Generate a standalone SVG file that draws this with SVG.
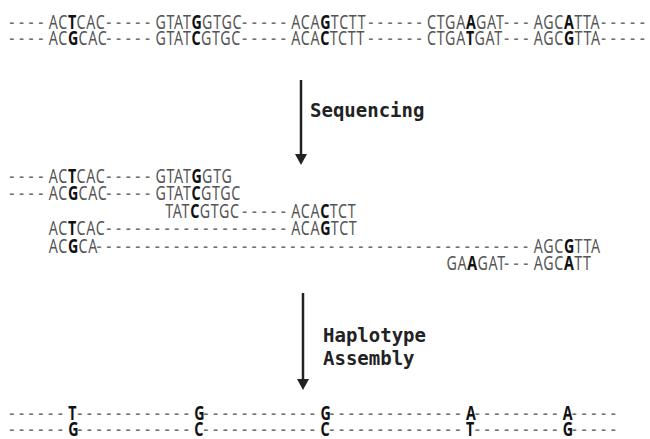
<svg xmlns="http://www.w3.org/2000/svg" width="650" height="439" viewBox="0 0 650 439">
  <style>
    .seq { font-family: "Noto Sans", "Open Sans", sans-serif; font-size: 19px; }
    .n { fill: #555; letter-spacing: 0.9px; }
    .b { fill: #111; font-weight: bold; letter-spacing: 0.4px; }
    .d { fill: #6f6f6f; font-family: "DejaVu Sans", sans-serif; letter-spacing: 6.07px; }
    .lbl { font-family: "DejaVu Sans Mono", monospace; font-weight: bold; font-size: 19px; fill: #222; }
    .arrow { stroke: #222; stroke-width: 2.5; fill: none; }
  </style>
  <defs>
    <marker id="ah" viewBox="0 0 11 12" refX="0" refY="6" markerWidth="11" markerHeight="12" markerUnits="userSpaceOnUse" orient="auto">
      <path d="M0,0 L11,6 L0,12 Z" fill="#222"/>
    </marker>
  </defs>
  <rect width="650" height="439" fill="#fff"/>

  <!-- sequence rows on a column grid: x = 13.33 + 12.933*col in the 0.75 scaled space -->
  <g class="seq" transform="scale(0.75,1)">
    <g id="haplotypes">
      <text y="29"><tspan class="d" x="12.3">----</tspan><tspan class="n" x="65.1">AC<tspan class="b">T</tspan>CAC</tspan><tspan class="d" x="141.7">-----</tspan><tspan class="n" x="207.3">GTAT<tspan class="b">G</tspan>GTGC</tspan><tspan class="d" x="322.7">-----</tspan><tspan class="n" x="388.4">ACA<tspan class="b">G</tspan>TCTT</tspan><tspan class="d" x="490.9">------</tspan><tspan class="n" x="569.5">CTGA<tspan class="b">A</tspan>GAT</tspan><tspan class="d" x="671.9">---</tspan><tspan class="n" x="711.7">AGC<tspan class="b">A</tspan>TTA</tspan><tspan class="d" x="801.3">-----</tspan></text>
      <text y="45"><tspan class="d" x="12.3">----</tspan><tspan class="n" x="65.1">AC<tspan class="b">G</tspan>CAC</tspan><tspan class="d" x="141.7">-----</tspan><tspan class="n" x="207.3">GTAT<tspan class="b">C</tspan>GTGC</tspan><tspan class="d" x="322.7">-----</tspan><tspan class="n" x="388.4">ACA<tspan class="b">C</tspan>TCTT</tspan><tspan class="d" x="490.9">------</tspan><tspan class="n" x="569.5">CTGA<tspan class="b">T</tspan>GAT</tspan><tspan class="d" x="671.9">---</tspan><tspan class="n" x="711.7">AGC<tspan class="b">G</tspan>TTA</tspan><tspan class="d" x="801.3">-----</tspan></text>
    </g>

    <g id="reads">
      <text y="183"><tspan class="d" x="12.3">----</tspan><tspan class="n" x="65.1">AC<tspan class="b">T</tspan>CAC</tspan><tspan class="d" x="141.7">-----</tspan><tspan class="n" x="207.3">GTAT<tspan class="b">G</tspan>GTG</tspan></text>
      <text y="200"><tspan class="d" x="12.3">----</tspan><tspan class="n" x="65.1">AC<tspan class="b">G</tspan>CAC</tspan><tspan class="d" x="141.7">-----</tspan><tspan class="n" x="207.3">GTAT<tspan class="b">C</tspan>GTGC</tspan></text>
      <text y="218"><tspan class="n" x="220.3">TAT<tspan class="b">C</tspan>GTGC</tspan><tspan class="d" x="322.7">-----</tspan><tspan class="n" x="388.4">ACA<tspan class="b">C</tspan>TCT</tspan></text>
      <text y="235"><tspan class="n" x="65.1">AC<tspan class="b">T</tspan>CAC</tspan><tspan class="d" x="141.7">-------------------</tspan><tspan class="n" x="388.4">ACA<tspan class="b">G</tspan>TCT</tspan></text>
      <text y="253"><tspan class="n" x="65.1">AC<tspan class="b">G</tspan>CA</tspan><tspan class="d" x="128.7">---------------------------------------------</tspan><tspan class="n" x="711.7">AGC<tspan class="b">G</tspan>TTA</tspan></text>
      <text y="270"><tspan class="n" x="595.3">GA<tspan class="b">A</tspan>GAT</tspan><tspan class="d" x="671.9">---</tspan><tspan class="n" x="711.7">AGC<tspan class="b">A</tspan>TT</tspan></text>
    </g>

    <g id="assembled">
      <text y="420"><tspan class="d" x="12.3">------</tspan><tspan class="b" x="90.9">T</tspan><tspan class="d" x="102.9">------------</tspan><tspan class="b" x="259.1">G</tspan><tspan class="d" x="271.0">------------</tspan><tspan class="b" x="427.2">G</tspan><tspan class="d" x="439.1">--------------</tspan><tspan class="b" x="621.2">A</tspan><tspan class="d" x="633.1">---------</tspan><tspan class="b" x="750.5">A</tspan><tspan class="d" x="762.5">-----</tspan></text>
      <text y="436"><tspan class="d" x="12.3">------</tspan><tspan class="b" x="90.9">G</tspan><tspan class="d" x="102.9">------------</tspan><tspan class="b" x="259.1">C</tspan><tspan class="d" x="271.0">------------</tspan><tspan class="b" x="427.2">C</tspan><tspan class="d" x="439.1">--------------</tspan><tspan class="b" x="621.2">T</tspan><tspan class="d" x="633.1">---------</tspan><tspan class="b" x="750.5">G</tspan><tspan class="d" x="762.5">-----</tspan></text>
    </g>
  </g>

  <g id="connectors">
    <line class="arrow" x1="301" y1="80" x2="301" y2="154" marker-end="url(#ah)"/>
    <line class="arrow" x1="303" y1="293" x2="303" y2="379" marker-end="url(#ah)"/>
  </g>

  <g id="step-sequencing">
    <text class="lbl" x="310" y="117">Sequencing</text>
  </g>
  <g id="step-assembly">
    <text class="lbl" x="323" y="342">Haplotype</text>
    <text class="lbl" x="323" y="365">Assembly</text>
  </g>
</svg>
